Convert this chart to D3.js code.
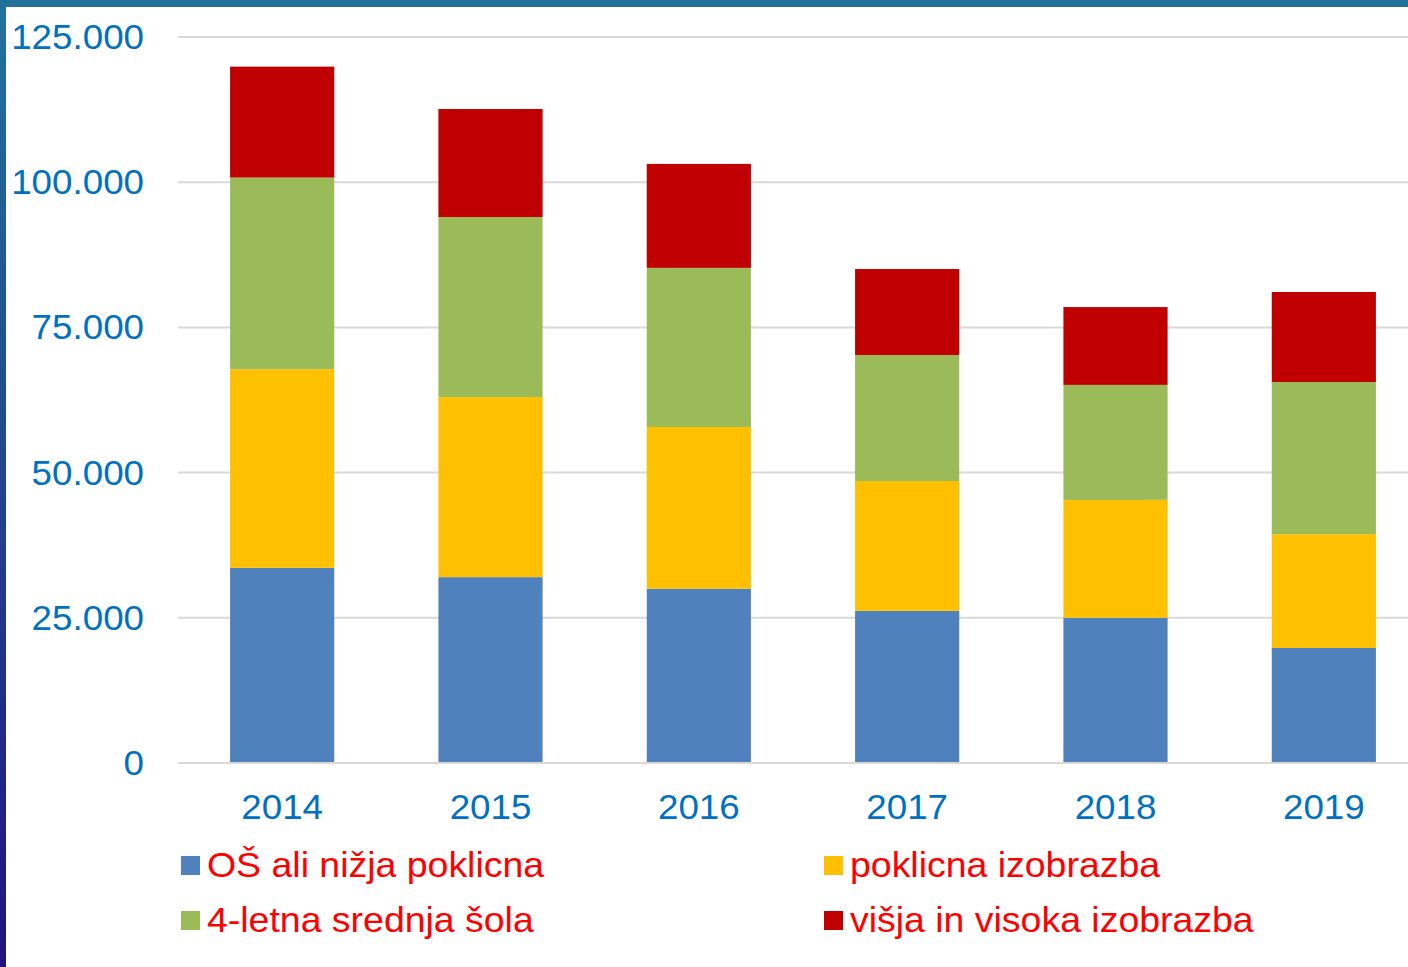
<!DOCTYPE html>
<html>
<head>
<meta charset="utf-8">
<script src="https://cdn.jsdelivr.net/npm/d3@7"></script>
<style>
  body { margin: 0; background: #fff; }
  svg { display: block; font-family: "Liberation Sans", Arial, sans-serif; }
</style>
</head>
<body>
<svg id="chart" width="1408" height="967"></svg>
<script>
// data
var years = ["2014", "2015", "2016", "2017", "2018", "2019"];
var osNizja = [33600, 32000, 30000, 26200, 25000, 19800];
var poklicna = [34200, 31000, 27850, 22350, 20300, 19600];
var srednja = [33000, 31000, 27400, 21700, 19800, 26200];
var visoka = [19100, 18600, 17900, 14800, 13400, 15500];
var seriesNames = ["OŠ ali nižja poklicna", "poklicna izobrazba", "4-letna srednja šola", "višja in visoka izobrazba"];
var seriesColors = ["#4f81bd", "#ffc000", "#9bbb59", "#c00000"];
var yTicks = [0, 25000, 50000, 75000, 100000, 125000];

var svg = d3.select("#chart");

// frame: top strip and left gradient strip
var defs = svg.append("defs");
var grad = defs.append("linearGradient").attr("id", "leftGrad")
    .attr("x1", 0).attr("y1", 0).attr("x2", 0).attr("y2", 1);
grad.append("stop").attr("offset", "0%").attr("stop-color", "#23729b");
grad.append("stop").attr("offset", "45%").attr("stop-color", "#224a8c");
grad.append("stop").attr("offset", "100%").attr("stop-color", "#21137e");
svg.append("rect").attr("x", 0).attr("y", 0).attr("width", 1408).attr("height", 7).attr("fill", "#21719a");
svg.append("rect").attr("x", 0).attr("y", 0).attr("width", 6).attr("height", 967).attr("fill", "url(#leftGrad)");

var x = d3.scaleBand().domain(years).range([178, 1428]).paddingInner(0.5).paddingOuter(0.25);
var y = d3.scaleLinear().domain([0, 125000]).range([763, 37]);

var fmt = function (v) { return d3.format(",")(v).replace(/,/g, "."); };

// gridlines
svg.append("g").selectAll("line").data(yTicks).join("line")
    .attr("x1", 178).attr("x2", 1408)
    .attr("y1", function (d) { return y(d); }).attr("y2", function (d) { return y(d); })
    .attr("stroke", "#d9d9d9").attr("stroke-width", 2);

// y labels
svg.append("g").selectAll("text").data(yTicks).join("text")
    .attr("transform", function (d) { return "translate(144," + (y(d) + 12) + ") scale(1.05,1)"; })
    .attr("text-anchor", "end")
    .attr("font-size", 35)
    .attr("fill", "#0070c0")
    .text(function (d) { return fmt(d); });

// stacked bars
var rows = years.map(function (yr, i) {
    return { year: yr, s0: osNizja[i], s1: poklicna[i], s2: srednja[i], s3: visoka[i] };
});
var stack = d3.stack().keys(["s0", "s1", "s2", "s3"]);
var layers = stack(rows);

svg.append("g").selectAll("g").data(layers).join("g")
    .attr("fill", function (d, i) { return seriesColors[i]; })
    .selectAll("rect").data(function (d) { return d; }).join("rect")
    .attr("x", function (d) { return x(d.data.year); })
    .attr("width", x.bandwidth())
    .attr("y", function (d) { return y(d[1]); })
    .attr("height", function (d) { return y(d[0]) - y(d[1]); });

// baseline drawn on top
svg.append("line").attr("x1", 178).attr("x2", 1408).attr("y1", y(0)).attr("y2", y(0))
    .attr("stroke", "#d9d9d9").attr("stroke-width", 2);

// x labels
svg.append("g").selectAll("text").data(years).join("text")
    .attr("transform", function (d) { return "translate(" + (x(d) + x.bandwidth() / 2) + ",819) scale(1.05,1)"; })
    .attr("text-anchor", "middle")
    .attr("font-size", 35)
    .attr("fill", "#0070c0")
    .text(function (d) { return d; });

// legend: 2 columns, 2 rows
var legendPos = [[181, 856], [824, 856], [181, 911], [824, 911]];
var legendOrder = [0, 1, 2, 3];
var lg = svg.append("g").selectAll("g").data(legendOrder).join("g")
    .attr("transform", function (d, i) { return "translate(" + legendPos[i][0] + "," + legendPos[i][1] + ")"; });
lg.append("rect").attr("width", 19).attr("height", 19)
    .attr("fill", function (d) { return seriesColors[d]; });
lg.append("text")
    .attr("transform", "translate(26,21) scale(1.07,1)")
    .attr("font-size", 35)
    .attr("fill", "#ff0000")
    .text(function (d) { return seriesNames[d]; });
</script>
</body>
</html>
